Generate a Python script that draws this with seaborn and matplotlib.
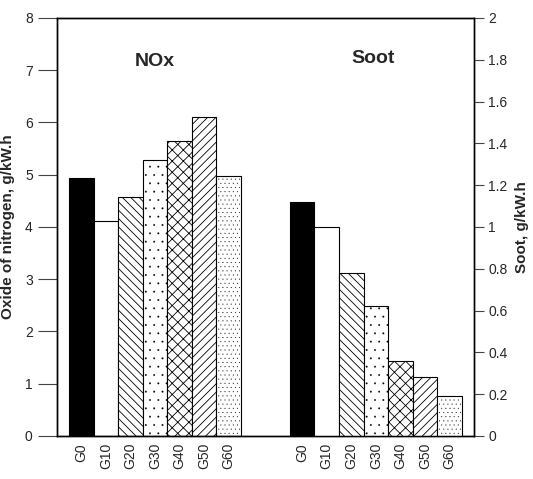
import numpy as np
import pandas as pd
import matplotlib
matplotlib.use("Agg")
import matplotlib.pyplot as plt
import seaborn as sns
from matplotlib.ticker import FormatStrFormatter

# data
groups = ['G0', 'G10', 'G20', 'G30', 'G40', 'G50', 'G60']
nox = [4.93, 4.11, 4.57, 5.28, 5.65, 6.10, 4.98]
soot = [1.12, 1.00, 0.78, 0.62, 0.36, 0.28, 0.19]
hatches = ['', '', '\\\\\\\\', '..', 'xxx', '////', '....']
fills = ['black', 'white', 'white', 'white', 'white', 'white', 'white']

sns.set_style("white")
plt.rcParams['font.family'] = ['Liberation Sans', 'DejaVu Sans']
plt.rcParams['hatch.linewidth'] = 0.6

nox_pos = np.arange(len(groups))
soot_pos = nox_pos + 9
df_nox = pd.DataFrame({'pos': nox_pos, 'value': nox})
df_soot = pd.DataFrame({'pos': soot_pos, 'value': soot})

fig = plt.figure(figsize=(5.33, 4.79), dpi=100)
ax = fig.add_axes([0.107, 0.0898, 0.782, 0.8727])
ax2 = ax.twinx()

sns.barplot(data=df_nox, x='pos', y='value', native_scale=True, width=1,
            color='white', edgecolor='black', linewidth=0.8, ax=ax)
sns.barplot(data=df_soot, x='pos', y='value', native_scale=True, width=1,
            color='white', edgecolor='black', linewidth=0.8, ax=ax2)

for axis in (ax, ax2):
    for p, fc, h in zip(axis.patches, fills, hatches):
        p.set_facecolor(fc)
        p.set_hatch(h)
        # dot patterns need thin strokes so the dots stay tiny
        if '.' in h and hasattr(p, 'set_hatch_linewidth'):
            p.set_hatch_linewidth(0.15)

ax.set_xlim(-1, 16)
ax.set_ylim(0, 8)
ax2.set_ylim(0, 2)
ax.set_yticks(range(0, 9))
ax2.set_yticks(np.arange(0, 2.01, 0.2))
ax2.yaxis.set_major_formatter(FormatStrFormatter('%g'))

ax.set_xticks(list(nox_pos) + list(soot_pos))
ax.set_xticklabels(groups + groups, rotation=90, fontsize=10)
ax.tick_params(axis='x', length=0, pad=5)
ax.tick_params(axis='y', length=14, width=0.8, color='#444444', labelsize=10, left=True, direction='out')
ax2.tick_params(axis='y', length=7, width=0.8, color='#444444', labelsize=10, right=True, direction='out')

ax.set_xlabel('')
ax.set_ylabel('Oxide of nitrogen, g/kW.h', fontsize=11, fontweight='bold')
ax.yaxis.set_label_coords(-0.10, 0.5)
ax2.set_ylabel('Soot, g/kW.h', fontsize=11, fontweight='bold')
ax2.yaxis.set_label_coords(1.098, 0.5)

for axis in (ax, ax2):
    for s in axis.spines.values():
        s.set_color('black')
        s.set_linewidth(1.0)

ax.text(3, 7.16, 'NOx', ha='center', va='center', fontsize=14, fontweight='bold')
ax.text(11.9, 7.23, 'Soot', ha='center', va='center', fontsize=14, fontweight='bold')

fig.savefig('out.png', dpi=100)
